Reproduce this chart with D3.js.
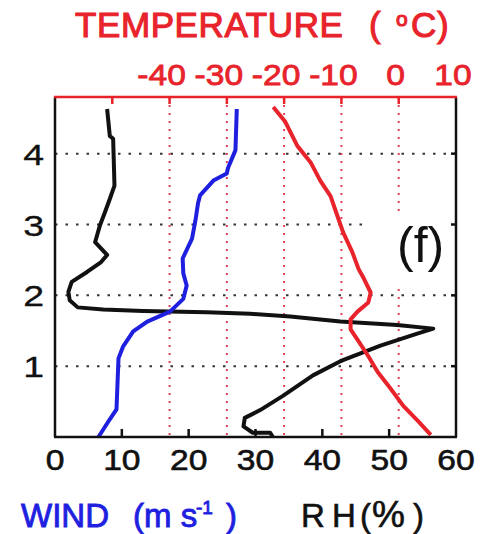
<!DOCTYPE html>
<html>
<head>
<meta charset="utf-8">
<script src="https://cdn.jsdelivr.net/npm/d3@7"></script>
<style>
  body { margin: 0; background: #fff; }
  text { font-family: "Liberation Sans", Arial, sans-serif; }
</style>
</head>
<body>
<script>
var W = 480, H = 534;
var RED = "#e8232b", BLUE = "#1f1fe0", BLACK = "#111";

// height axis (km), shared bottom axis (wind m/s and RH %), top axis temperature
var heightTicks = [1, 2, 3, 4];
var bottomTicks = [0, 10, 20, 30, 40, 50, 60];
var tempTicks = [-50, -40, -30, -20, -10, 0, 10];
var tempLabels = [-40, -30, -20, -10, 0, 10];
var tempGrid = [-40, -30, -20, -10, 0];

// wind profile
var windHeight = [4.63, 4.05, 3.80, 3.72, 3.62, 3.41, 3.30, 3.05, 2.80, 2.52, 2.31, 2.14, 1.95, 1.77, 1.63, 1.49, 1.28, 1.11, 0.63, 0.39, 0.25, 0.0];
var windSpeed  = [27.2, 27.0, 25.9, 25.7, 23.7, 21.7, 21.4, 21.0, 20.5, 19.1, 19.2, 19.7, 19.2, 17.2, 13.8, 11.7, 10.2, 9.5, 9.3, 9.2, 8.2, 6.5];

// relative humidity profile
var rhHeight = [4.63, 4.25, 4.21, 3.55, 3.36, 3.18, 2.98, 2.75, 2.57, 2.47, 2.33, 2.19, 2.05, 1.93, 1.83, 1.80, 1.78, 1.76, 1.74, 1.70, 1.63, 1.58, 1.53, 1.46, 1.29, 1.07, 0.87, 0.58, 0.38, 0.27, 0.15, 0.06, 0.06, 0.0];
var rhValue  = [7.8, 8.2, 8.7, 8.9, 8.2, 7.5, 6.7, 6.0, 7.8, 6.9, 4.8, 2.5, 2.0, 2.2, 3.4, 7.2, 13.2, 22.7, 29.2, 35.2, 42.7, 51.2, 56.6, 54.2, 48.7, 42.7, 38.6, 34.1, 30.7, 28.4, 28.2, 29.6, 32.2, 32.6];

// temperature profile
var tempHeight = [4.66, 4.45, 4.11, 3.88, 3.62, 3.40, 3.12, 2.89, 2.61, 2.37, 2.27, 2.04, 1.90, 1.77, 1.66, 1.52, 1.35, 1.14, 0.92, 0.68, 0.44, 0.23, 0.03];
var tempValue  = [-21.9, -19.8, -17.7, -15.4, -13.7, -11.9, -10.7, -9.7, -8.1, -7.0, -6.3, -4.9, -5.3, -7.2, -8.4, -8.4, -7.0, -5.3, -3.7, -1.4, 0.8, 3.3, 5.6];

var L = 55, R = 456, T = 97, B = 437;

var x = d3.scaleLinear().domain([0, 60]).range([L, R]);
var t = d3.scaleLinear().domain([-60, 10]).range([L, R]);
var y = d3.scaleLinear().domain([0, 4.8]).range([B, T]);

var svg = d3.select("body").append("svg").attr("width", W).attr("height", H);

// grid
svg.append("g").selectAll("line").data(heightTicks).enter().append("line")
  .attr("x1", L).attr("x2", R).attr("y1", d => y(d)).attr("y2", d => y(d))
  .attr("stroke", "#333").attr("stroke-width", 2).attr("stroke-dasharray", "2.5,8");
svg.append("g").selectAll("line").data(tempGrid).enter().append("line")
  .attr("x1", d => t(d)).attr("x2", d => t(d)).attr("y1", T).attr("y2", B)
  .attr("stroke", "#e0405a").attr("stroke-width", 2).attr("stroke-dasharray", "2,6");

// (f) label with white box
var flab = svg.append("text").attr("x", 397).attr("y", 262).attr("font-size", 50).attr("fill", BLACK).text("(f)");
var bb = flab.node().getBBox();
svg.insert("rect", "text").attr("x", bb.x - 27).attr("y", bb.y - 5).attr("width", R - (bb.x - 27)).attr("height", bb.height + 16).attr("fill", "#fff");

// curves
function profile(hs, vs, sc) { return d3.line().x(d => sc(vs[d])).y(d => y(hs[d]))(d3.range(hs.length)); }
svg.append("path").attr("d", profile(rhHeight, rhValue, x)).attr("fill", "none").attr("stroke", BLACK).attr("stroke-width", 4).attr("stroke-linejoin", "round");
svg.append("path").attr("d", profile(windHeight, windSpeed, x)).attr("fill", "none").attr("stroke", BLUE).attr("stroke-width", 4).attr("stroke-linejoin", "round");
svg.append("path").attr("d", profile(tempHeight, tempValue, t)).attr("fill", "none").attr("stroke", RED).attr("stroke-width", 4).attr("stroke-linejoin", "round");

// frame
svg.append("line").attr("x1", L).attr("x2", L).attr("y1", T).attr("y2", B).attr("stroke", BLACK).attr("stroke-width", 2.5);
svg.append("line").attr("x1", R).attr("x2", R).attr("y1", T).attr("y2", B).attr("stroke", BLACK).attr("stroke-width", 2.5);
svg.append("line").attr("x1", L - 1).attr("x2", R + 1).attr("y1", B).attr("y2", B).attr("stroke", BLACK).attr("stroke-width", 2.5);
svg.append("line").attr("x1", L - 1).attr("x2", R + 1).attr("y1", T).attr("y2", T).attr("stroke", RED).attr("stroke-width", 2.5);

// ticks
svg.append("g").selectAll("line").data(bottomTicks.slice(1, -1)).enter().append("line")
  .attr("x1", d => x(d)).attr("x2", d => x(d)).attr("y1", B).attr("y2", B - 8)
  .attr("stroke", BLACK).attr("stroke-width", 2.5);
svg.append("g").selectAll("line").data(tempTicks.slice(0, -1)).enter().append("line")
  .attr("x1", d => t(d)).attr("x2", d => t(d)).attr("y1", T).attr("y2", T + 7)
  .attr("stroke", RED).attr("stroke-width", 2.5);
svg.append("g").selectAll("line").data(heightTicks).enter().append("line")
  .attr("x1", R).attr("x2", R - 5).attr("y1", d => y(d)).attr("y2", d => y(d))
  .attr("stroke", BLACK).attr("stroke-width", 2.5);

// tick labels
svg.append("g").selectAll("text").data(bottomTicks).enter().append("text")
  .attr("transform", d => "translate(" + x(d) + ",470) scale(1.12,1)")
  .attr("text-anchor", "middle").attr("font-size", 30).attr("fill", BLACK)
  .attr("stroke", BLACK).attr("stroke-width", 0.6).text(d => d);
svg.append("g").selectAll("text").data(heightTicks).enter().append("text")
  .attr("transform", d => "translate(44," + (y(d) + 11) + ") scale(1.25,1)")
  .attr("text-anchor", "end").attr("font-size", 30).attr("fill", BLACK)
  .attr("stroke", BLACK).attr("stroke-width", 0.3).text(d => d);
svg.append("g").selectAll("text").data(tempLabels).enter().append("text")
  .attr("transform", d => "translate(" + (t(d) - (d < 0 ? 8 : 3)) + ",85) scale(1.12,1)")
  .attr("text-anchor", "middle").attr("font-size", 30).attr("fill", RED)
  .attr("stroke", RED).attr("stroke-width", 0.8).text(d => d);

// axis titles
var tt = svg.append("text").attr("y", 37).attr("font-size", 35).attr("fill", RED)
  .attr("stroke", RED).attr("stroke-width", 1.1).attr("letter-spacing", 0.6);
tt.append("tspan").attr("x", 75).text("TEMPERATURE");
tt.append("tspan").attr("x", 369).text("(");
tt.append("tspan").attr("x", 396).attr("dy", -11).attr("font-size", 21).text("o");
tt.append("tspan").attr("x", 411).attr("dy", 11).text("C)");

var wt = svg.append("text").attr("y", 527).attr("font-size", 33).attr("fill", BLUE)
  .attr("stroke", BLUE).attr("stroke-width", 0.9);
wt.append("tspan").attr("x", 21).text("WIND");
wt.append("tspan").attr("x", 133).text("(m s");
wt.append("tspan").attr("x", 196).attr("dy", -13).attr("font-size", 19).text("-1");
wt.append("tspan").attr("x", 226).attr("dy", 13).text(")");

var rt = svg.append("text").attr("y", 527).attr("font-size", 33).attr("fill", BLACK)
  .attr("stroke", BLACK).attr("stroke-width", 0.6);
rt.append("tspan").attr("x", 301).text("R");
rt.append("tspan").attr("x", 332).text("H");
rt.append("tspan").attr("x", 360).text("(");
rt.append("tspan").attr("x", 372).attr("font-size", 37).text("%");
rt.append("tspan").attr("x", 413).text(")");
</script>
</body>
</html>
